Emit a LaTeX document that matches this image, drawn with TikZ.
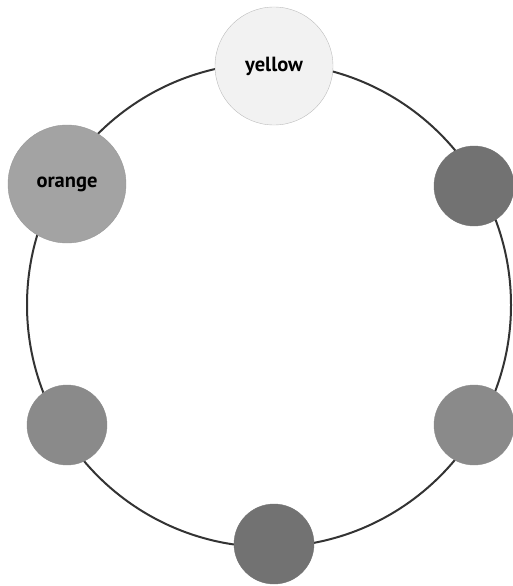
\documentclass[tikz,border=0pt]{standalone}
\usepackage{fontspec}
\setmainfont{PT Sans}
\usepackage{tikz}
\usetikzlibrary{positioning}
\definecolor{ring}{HTML}{333333}
\definecolor{yelFill}{HTML}{f2f2f2}
\definecolor{yelLine}{HTML}{bdbdbd}
\definecolor{orgFill}{HTML}{a3a3a3}
\definecolor{orgLine}{HTML}{999999}
\definecolor{dotDark}{HTML}{727272}
\definecolor{dotMid}{HTML}{8a8a8a}
\begin{document}
\begin{tikzpicture}[x=1pt,y=-1pt,big/.style={circle, draw, minimum size=118pt, inner sep=0pt, font=\fontsize{20.5}{20.5}\selectfont\bfseries},small/.style={circle, draw, minimum size=80pt, inner sep=0pt}]
\useasboundingbox (0,0) rectangle (512,586);
\coordinate (ctr) at (269,305);
\draw[line width=2pt, color=ring] (ctr) circle (242pt);
\node[big, fill=yelFill, draw=yelLine] (yellow) at (274,66) {yellow};
\node[big, fill=orgFill, draw=orgLine] (orange) at (67,184) {orange};
\node[small, fill=dotDark, draw=dotDark] (rtop) at (474,186) {};
\node[small, fill=dotMid, draw=dotMid] (rbot) at (474,425) {};
\node[small, fill=dotDark, draw=dotDark] (bot) at (274,544) {};
\node[small, fill=dotMid, draw=dotMid] (lbot) at (67,425) {};
\end{tikzpicture}
\end{document}
